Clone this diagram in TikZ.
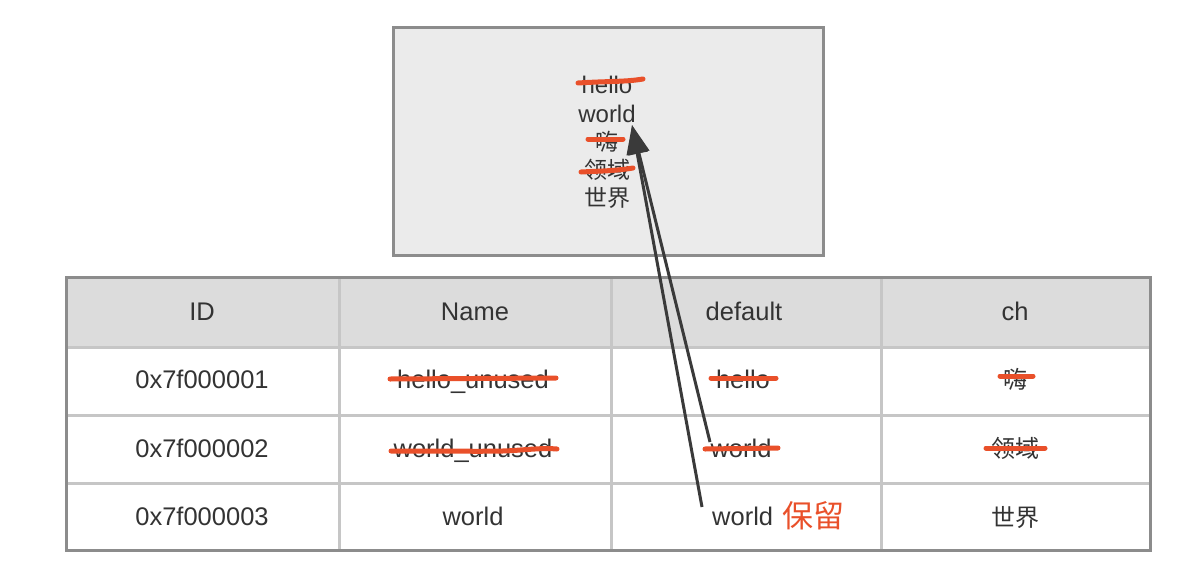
\documentclass[tikz,border=0pt]{standalone}
\usepackage{fontspec}
\setmainfont{Liberation Sans}
\newfontfamily\cjk{Noto Sans CJK SC}
\usetikzlibrary{arrows.meta}
\definecolor{txt}{HTML}{333333}
\definecolor{strk}{HTML}{E9502A}
\definecolor{boxfill}{HTML}{EBEBEB}
\definecolor{boxline}{HTML}{8C8C8C}
\definecolor{hdrfill}{HTML}{DCDCDC}
\definecolor{gridline}{HTML}{C6C6C6}
\definecolor{arrcol}{HTML}{3A3A3A}
\tikzset{
  lbl/.style={anchor=base,inner sep=0pt,text=txt,font=\fontsize{25.5}{25.5}\selectfont},
  toplbl/.style={anchor=base,inner sep=0pt,text=txt,font=\fontsize{24}{24}\selectfont},
  cjklbl/.style={anchor=base,inner sep=0pt,text=txt,font=\cjk\fontsize{24}{24}\selectfont},
  topcjk/.style={anchor=base,inner sep=0pt,text=txt,font=\cjk\fontsize{23}{23}\selectfont},
  strike/.style={draw=strk,line width=5pt,line cap=round},
  arr/.style={draw=arrcol,line width=3pt,-{Triangle[length=29pt,width=21pt]}},
}
\begin{document}
\begin{tikzpicture}[x=1pt,y=-1pt]
\useasboundingbox (0,0) rectangle (1200,568);
% top box
\draw[fill=boxfill,draw=boxline,line width=3pt] (393,27) rectangle (823,255);
\node[toplbl] (th) at (607,93) {hello};
\node[toplbl] (tw) at (607,122) {world};
\node[topcjk] (thi) at (607,150) {嗨};
\node[topcjk] (tly) at (607,178) {领域};
\node[topcjk] (tsj) at (607,206) {世界};
% table
\fill[hdrfill] (66,277) rectangle (1150,347);
\foreach \yy in {347,415,483} \draw[gridline,line width=3pt] (66,\yy) -- (1150,\yy);
\foreach \xx in {339,611,881} \draw[gridline,line width=3pt] (\xx,277) -- (\xx,550);
\draw[boxline,line width=3pt] (66,277) rectangle (1150,550);
% header
\node[lbl] (hID) at (202,320) {ID};
\node[lbl] (hName) at (475,320) {Name};
\node[lbl] (hdef) at (744,320) {default};
\node[lbl] (hch) at (1015,320) {ch};
% row 1
\node[lbl] (r1id) at (202,388) {0x7f000001};
\node[lbl] (r1n) at (473,388) {hello\_unused};
\node[lbl] (r1d) at (743,388) {hello};
\node[cjklbl] (r1c) at (1015,388) {嗨};
% row 2
\node[lbl] (r2id) at (202,457) {0x7f000002};
\node[lbl] (r2n) at (473,457) {world\_unused};
\node[lbl] (r2d) at (741,457) {world};
\node[cjklbl] (r2c) at (1015,457) {领域};
% row 3
\node[lbl] (r3id) at (202,525) {0x7f000003};
\node[lbl] (r3n) at (473,525) {world};
\node[lbl,anchor=base west] (r3d) at (712,525) {world};
\node[anchor=base west,inner sep=0pt,text=strk,font=\cjk\fontsize{31}{31}\selectfont] (keep) at (782,527) {保留};
\node[cjklbl] (r3c) at (1015,526) {世界};
% strikes
\draw[strike] (578,83) .. controls (610,81) and (625,82) .. (643,79);
\draw[strike] (588,139) -- (623,139);
\draw[strike] (581,172) .. controls (600,171) and (615,171) .. (633,168);
\draw[strike] (390,379) -- (556,378);
\draw[strike] (391,451) .. controls (470,451) and (500,452) .. (520,450) .. controls (535,449) and (545,448) .. (557,449);
\draw[strike] (711,378) -- (776,378);
\draw[strike] (705,449) -- (778,448);
\draw[strike] (1000,376) -- (1033,376);
\draw[strike] (986,448) -- (1045,448);
% arrows
\coordinate (src3) at (702,507);
\coordinate (src2) at (710,442);
\coordinate (tip) at (632,125);
\draw[arr] (src3) -- (tip);
\draw[arr] (src2) -- (tip);
\end{tikzpicture}
\end{document}
